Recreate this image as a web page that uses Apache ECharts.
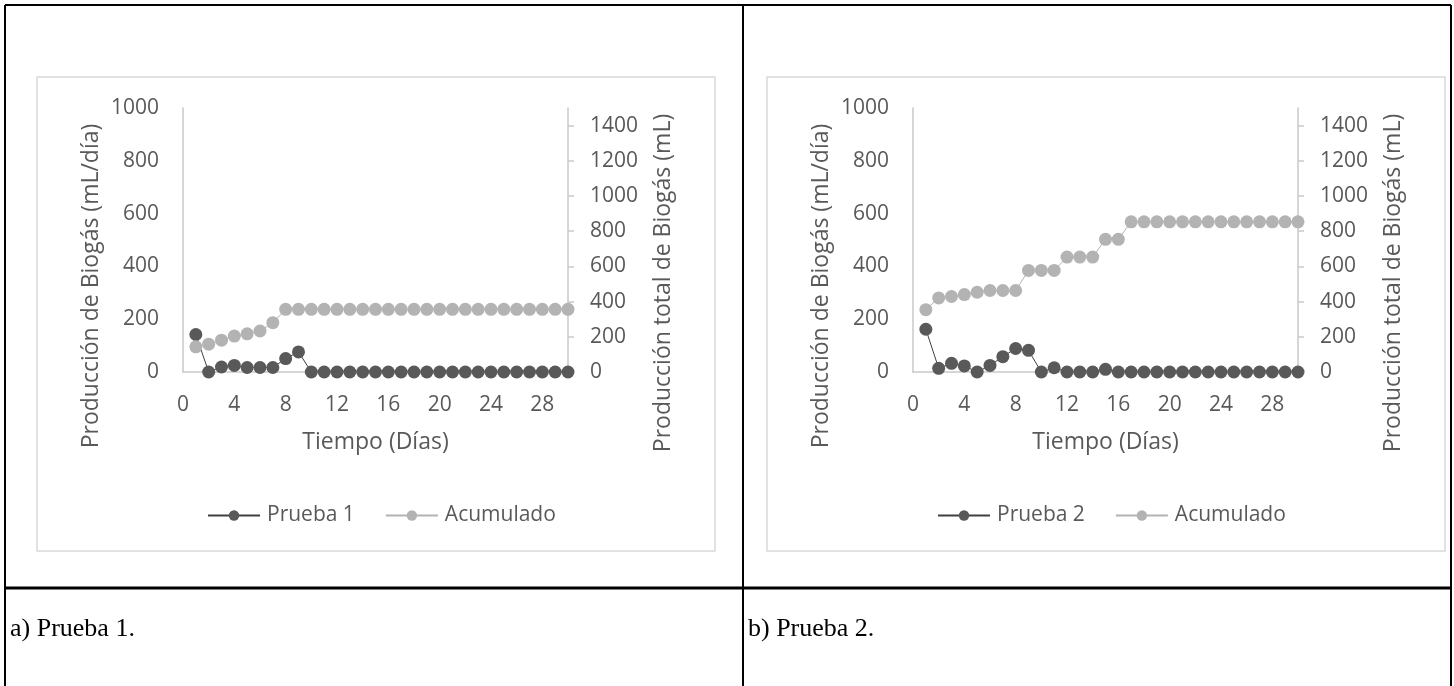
<!DOCTYPE html>
<html>
<head>
<meta charset="utf-8">
<script src="https://cdn.jsdelivr.net/npm/echarts@6/dist/echarts.min.js"></script>
<style>
  html, body { margin: 0; padding: 0; background: #ffffff; }
  #chart { width: 1454px; height: 686px; }
</style>
</head>
<body>
<div id="chart"></div>
<script>
// Days of the digestion test
const days = [1, 2, 3, 4, 5, 6, 7, 8, 9, 10, 11, 12, 13, 14, 15, 16, 17, 18, 19, 20, 21, 22, 23, 24, 25, 26, 27, 28, 29, 30];

// Test 1: daily biogas production (mL/día) and cumulative total (mL)
const prueba1 = [142, 0, 19, 25, 17, 17, 17, 51, 76, 0, 0, 0, 0, 0, 0, 0, 0, 0, 0, 0, 0, 0, 0, 0, 0, 0, 0, 0, 0, 0];
const acumulado1 = [143, 158, 181, 204, 217, 233, 280, 356, 356, 356, 356, 356, 356, 356, 356, 356, 356, 356, 356, 356, 356, 356, 356, 356, 356, 356, 356, 356, 356, 356];

// Test 2: daily biogas production (mL/día) and cumulative total (mL)
const prueba2 = [162, 14, 33, 23, 0, 25, 58, 89, 82, 0, 16, 0, 0, 0, 10, 0, 0, 0, 0, 0, 0, 0, 0, 0, 0, 0, 0, 0, 0, 0];
const acumulado2 = [354, 421, 429, 440, 453, 463, 463, 463, 577, 577, 577, 653, 653, 653, 754, 754, 853, 853, 853, 853, 853, 853, 853, 853, 853, 853, 853, 853, 853, 853];

// Axis ticks and text
const xTicks = [0, 4, 8, 12, 16, 20, 24, 28];
const leftTicks = [0, 200, 400, 600, 800, 1000];
const rightTicks = [0, 200, 400, 600, 800, 1000, 1200, 1400];
const xTitle = 'Tiempo (Días)';
const leftTitle = 'Producción de Biogás (mL/día)';
const rightTitle = 'Producción total de Biogás (mL)';
const captions = ['a) Prueba 1.', 'b) Prueba 2.'];

const FONT = '"Open Sans", sans-serif';
const TEXT = '#595959';
const AXIS = '#c9c9c9';
const DARK = '#595959';
const LIGHT = '#b3b3b3';
const FS = 21;      // tick labels and legend
const FS_T = 23;    // axis titles

const panels = [
  { left: 183, name: 'Prueba 1', daily: prueba1, total: acumulado1 },
  { left: 913, name: 'Prueba 2', daily: prueba2, total: acumulado2 }
];
const PLOT_W = 385, TOP = 108, BOTTOM_Y = 372, H = 686;

const grid = [], xAxis = [], yAxis = [], series = [], legend = [], titles = [];
const pairs = arr => days.map((d, k) => [d, arr[k]]);
const plain = v => String(v);
const labelStyle = { color: TEXT, fontSize: FS, fontFamily: FONT };
const titleStyle = { color: TEXT, fontSize: FS_T, fontFamily: FONT };

// Vertical axis title drawn as rotated text (reads bottom to top)
const sideTitle = (text, x, y) => ({
  type: 'text', x: x, y: y, rotation: Math.PI / 2,
  style: { text: text, fill: TEXT, font: FS_T + 'px ' + FONT, align: 'center', verticalAlign: 'middle' }
});

panels.forEach((p, i) => {
  grid.push({ left: p.left, width: PLOT_W, top: TOP, bottom: H - BOTTOM_Y });
  xAxis.push({
    gridIndex: i, type: 'value', min: 0, max: 30, interval: 4,
    axisLine: { lineStyle: { color: AXIS, width: 1.5 } },
    axisTick: { show: false }, splitLine: { show: false },
    axisLabel: Object.assign({ margin: 23, customValues: xTicks, formatter: plain }, labelStyle),
    name: xTitle, nameLocation: 'middle', nameGap: 59,
    nameTextStyle: Object.assign({}, titleStyle)
  });
  yAxis.push({
    gridIndex: i, type: 'value', position: 'left', min: 0, max: 1000, interval: 200,
    axisLine: { show: true, lineStyle: { color: AXIS, width: 1.5 } },
    axisTick: { show: false }, splitLine: { show: false },
    axisLabel: Object.assign({ margin: 24, customValues: leftTicks, formatter: plain }, labelStyle)
  });
  yAxis.push({
    gridIndex: i, type: 'value', position: 'right', min: 0, max: 1500, interval: 200,
    axisLine: { show: true, lineStyle: { color: AXIS, width: 1.5 } },
    axisTick: { show: true, inside: false, length: 6, customValues: rightTicks, lineStyle: { color: AXIS, width: 1.5 } },
    splitLine: { show: false },
    axisLabel: Object.assign({ margin: 22, customValues: rightTicks, formatter: plain }, labelStyle)
  });
  series.push({
    name: p.name, type: 'line', xAxisIndex: i, yAxisIndex: 2 * i,
    data: pairs(p.daily), symbol: 'circle', symbolSize: 13,
    lineStyle: { color: '#404040', width: 1 }, itemStyle: { color: DARK },
    animation: false
  });
  series.push({
    name: 'Acumulado', type: 'line', xAxisIndex: i, yAxisIndex: 2 * i + 1,
    data: pairs(p.total), symbol: 'circle', symbolSize: 13,
    lineStyle: { color: LIGHT, width: 1 }, itemStyle: { color: LIGHT },
    animation: false
  });
  legend.push({
    data: [p.name, 'Acumulado'], left: p.left + 19, top: 500,
    itemWidth: 52, itemHeight: 13, itemGap: 30,
    textStyle: Object.assign({ padding: [0, 0, 0, 2] }, labelStyle), selectedMode: false
  });
  titles.push(sideTitle(leftTitle, p.left - 92, 286));
  titles.push(sideTitle(rightTitle, p.left + PLOT_W + 95, 283));
});

// Table frame, chart boxes and captions
const graphic = [
  { type: 'rect', shape: { x: 37, y: 77, width: 678, height: 474 }, style: { fill: null, stroke: '#d9d9d9', lineWidth: 1.5 }, z: -1 },
  { type: 'rect', shape: { x: 767, y: 77, width: 678, height: 474 }, style: { fill: null, stroke: '#d9d9d9', lineWidth: 1.5 }, z: -1 },
  { type: 'line', shape: { x1: 5, y1: 5, x2: 1451, y2: 5 }, style: { stroke: '#000', lineWidth: 2 } },
  { type: 'line', shape: { x1: 5, y1: 5, x2: 5, y2: 686 }, style: { stroke: '#000', lineWidth: 2 } },
  { type: 'line', shape: { x1: 1451, y1: 5, x2: 1451, y2: 686 }, style: { stroke: '#000', lineWidth: 2 } },
  { type: 'line', shape: { x1: 743, y1: 5, x2: 743, y2: 686 }, style: { stroke: '#000', lineWidth: 2 } },
  { type: 'line', shape: { x1: 5, y1: 588, x2: 1451, y2: 588 }, style: { stroke: '#000', lineWidth: 3 } },
  { type: 'text', left: 10, top: 616, style: { text: captions[0], fill: '#000', font: '26px "Liberation Serif", serif' } },
  { type: 'text', left: 748, top: 616, style: { text: captions[1], fill: '#000', font: '26px "Liberation Serif", serif' } }
].concat(titles);

const chart = echarts.init(document.getElementById('chart'), null, { renderer: 'canvas' });
chart.setOption({
  backgroundColor: '#ffffff',
  animation: false,
  textStyle: { fontFamily: FONT },
  grid, xAxis, yAxis, series, legend, graphic
});
</script>
</body>
</html>
